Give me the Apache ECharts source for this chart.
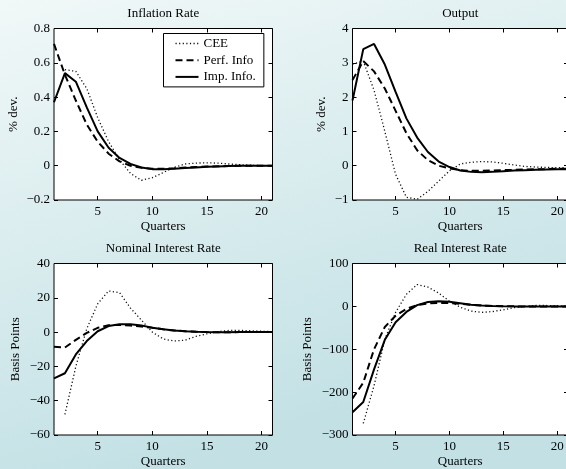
<!DOCTYPE html>
<html><head><meta charset="utf-8">
<script src="https://cdn.jsdelivr.net/npm/echarts@6/dist/echarts.min.js"></script>
<style>html,body{margin:0;padding:0;background:#e0f0f2}#c{width:566px;height:469px}</style>
</head><body><div id="c"></div><script>
const quarters = [1,2,3,4,5,6,7,8,9,10,11,12,13,14,15,16,17,18,19,20,21];
const xTicks = [5,10,15,20];

const inflationCEE  = [null,0.56,0.55,0.45,0.28,0.14,0.035,-0.045,-0.085,-0.07,-0.04,-0.01,0.01,0.015,0.017,0.015,0.01,0.006,0.003,0.001,0];
const inflationPerf = [0.71,0.53,0.38,0.24,0.14,0.07,0.025,0.0,-0.012,-0.018,-0.018,-0.015,-0.011,-0.008,-0.005,-0.003,-0.002,-0.001,0,0,0];
const inflationImp  = [0.37,0.54,0.49,0.34,0.2,0.105,0.045,0.01,-0.01,-0.02,-0.02,-0.018,-0.014,-0.01,-0.006,-0.004,-0.002,-0.001,0,0,0];

const outputCEE  = [2.96,3.05,2.2,1.0,-0.25,-0.92,-0.98,-0.75,-0.45,-0.15,0.05,0.1,0.12,0.11,0.07,0.02,-0.02,-0.04,-0.05,-0.06,-0.06];
const outputPerf = [2.5,3.05,2.75,2.25,1.6,0.95,0.45,0.16,0.0,-0.08,-0.13,-0.15,-0.15,-0.14,-0.13,-0.12,-0.11,-0.1,-0.1,-0.09,-0.09];
const outputImp  = [1.9,3.4,3.55,2.95,2.15,1.38,0.82,0.4,0.12,-0.04,-0.14,-0.18,-0.19,-0.18,-0.16,-0.14,-0.13,-0.12,-0.11,-0.1,-0.1];

const nominalCEE  = [null,-48,-20,2,16.5,24,23,14,7,0,-4,-5.2,-4.7,-2.5,-1,0.3,1,1,0.8,0.5,0.3];
const nominalPerf = [-8.5,-9,-4.5,-0.5,2.5,4,4.2,3.8,3.3,2.5,1.6,1.0,0.5,0.2,0,-0.1,-0.1,0,0,0,0];
const nominalImp  = [-27,-24,-13,-5.2,0.5,3.5,4.6,4.6,3.8,2.6,1.7,1.0,0.5,0.2,0,-0.1,-0.1,0,0,0,0];

const realCEE  = [null,-273,-185,-77,-14,28,51,45,31,12,-2,-11,-14,-12,-8,-3,0,2,2,1.5,1];
const realPerf = [-215,-178,-100,-48,-22,-6,3,7,8,8,6,3.5,2,1,0.3,0,0,0,0,0,0];
const realImp  = [-247,-223,-147,-78,-37,-13,3,10,12,11,7.5,4,2,1,0.4,0,0,0,0,0,0];

const seriesNames = ['CEE','Perf. Info','Imp. Info.'];
const panelTitles = ['Inflation Rate','Output','Nominal Interest Rate','Real Interest Rate'];
const yNames = ['% dev.','% dev.','Basis Points','Basis Points'];
const yRanges = [[-0.2,0.8,0.2],[-1,4,1],[-60,40,20],[-300,100,100]];
const panelData = [
  [inflationCEE, inflationPerf, inflationImp],
  [outputCEE, outputPerf, outputImp],
  [nominalCEE, nominalPerf, nominalImp],
  [realCEE, realPerf, realImp]
];

const FONT = 'Liberation Serif';
const grids = [
  {left:54, top:28.5, width:218.5, height:171.5},
  {left:352.5, top:28.5, width:215.5, height:171.5},
  {left:54, top:263.5, width:218.5, height:171.5},
  {left:352.5, top:263.5, width:215.5, height:171.5}
];
const yNameGaps = [34, 24, 32, 38];
const lineStyles = [
  {color:'#111', width:1.3, type:[1.2,2.4]},
  {color:'#000', width:2, type:[7,4]},
  {color:'#000', width:2, type:'solid'}
];

const tick = {show:true, inside:true, length:4, lineStyle:{color:'#000', width:1}};
const xAxes = [], yAxes = [], series = [], titles = [];
grids.forEach((g, gi) => {
  xAxes.push({type:'value', gridIndex:gi, min:1, max:21, position:'bottom',
    axisLine:{show:false, onZero:false}, splitLine:{show:false},
    axisTick:Object.assign({customValues:xTicks}, tick),
    axisLabel:{customValues:xTicks, margin:5, color:'#000', fontSize:13, fontFamily:FONT},
    name:'Quarters', nameLocation:'middle', nameGap:20,
    nameTextStyle:{color:'#000', fontSize:13, fontFamily:FONT}});
  xAxes.push({type:'value', gridIndex:gi, min:1, max:21, position:'top',
    axisLine:{show:false, onZero:false}, splitLine:{show:false},
    axisTick:Object.assign({customValues:xTicks}, tick), axisLabel:{show:false}});
  const r = yRanges[gi];
  yAxes.push({type:'value', gridIndex:gi, min:r[0], max:r[1], interval:r[2], position:'left',
    axisLine:{show:false, onZero:false}, splitLine:{show:false}, axisTick:tick,
    axisLabel:{margin:4, color:'#000', fontSize:13, fontFamily:FONT,
      formatter:v => String(Math.round(v*1000)/1000).replace('-', '\u2212')},
    name:yNames[gi], nameLocation:'middle', nameGap:yNameGaps[gi],
    nameTextStyle:{color:'#000', fontSize:13, fontFamily:FONT}});
  yAxes.push({type:'value', gridIndex:gi, min:r[0], max:r[1], interval:r[2], position:'right',
    axisLine:{show:false, onZero:false}, splitLine:{show:false}, axisTick:tick, axisLabel:{show:false}});
  titles.push({text:panelTitles[gi], left:g.left + g.width/2, top:g.top - 21, textAlign:'center', padding:0,
    textStyle:{color:'#000', fontSize:13, fontWeight:'normal', fontFamily:FONT}});
  panelData[gi].forEach((vals, si) => {
    series.push({type:'line', name:seriesNames[si], xAxisIndex:gi*2, yAxisIndex:gi*2,
      data:quarters.map((q, i) => [q, vals[i]]),
      showSymbol:false, symbol:'circle', lineStyle:lineStyles[si], itemStyle:{color:'#000'},
      silent:true, animation:false, connectNulls:false});
  });
});

const chart = echarts.init(document.getElementById('c'), null, {renderer:'canvas'});
chart.setOption({
  animation:false,
  backgroundColor:{type:'linear', x:0, y:0, x2:0.25, y2:1,
    colorStops:[{offset:0, color:'#f1f8f8'}, {offset:1, color:'#c3e1e5'}]},
  title:titles,
  grid:grids.map(g => Object.assign({show:true, backgroundColor:'#fff', borderColor:'#000', borderWidth:1,
    containLabel:false, outerBoundsMode:'none'}, g)),
  xAxis:xAxes, yAxis:yAxes,
  legend:{data:seriesNames, orient:'vertical', left:163.5, top:33.5, itemWidth:23, itemHeight:12, itemGap:3.7,
    padding:[3.5,8,3.5,11], backgroundColor:'#fff', borderColor:'#000', borderWidth:1, borderRadius:0,
    selectedMode:false, itemStyle:{opacity:0}, lineStyle:{width:'inherit'},
    textStyle:{color:'#000', fontSize:13, fontFamily:FONT}},
  series:series
});
</script></body></html>
